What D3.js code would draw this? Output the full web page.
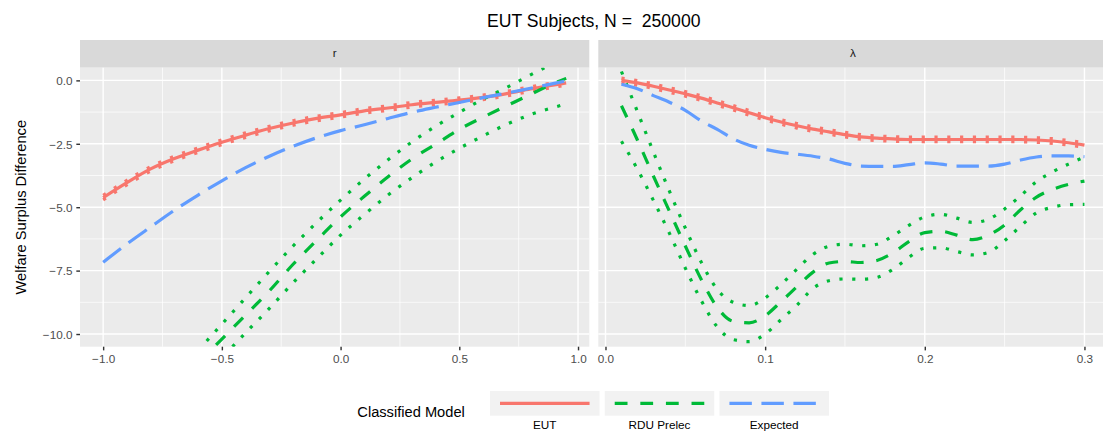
<!DOCTYPE html>
<html>
<head>
<meta charset="utf-8">
<script src="https://cdn.jsdelivr.net/npm/d3@7"></script>
<style>
  body { margin: 0; background: #ffffff; }
  svg { display: block; }
  text { font-family: "Liberation Sans", Arial, Helvetica, sans-serif; white-space: pre; }
</style>
</head>
<body>
<svg id="chart" width="1103" height="434"></svg>
<script>
// ---- data -------------------------------------------------------------
const chartTitle = "EUT Subjects, N =  250000";
const yTitle = "Welfare Surplus Difference";
const legendTitle = "Classified Model";
const modelNames = ["EUT", "RDU Prelec", "Expected"];
const facetNames = ["r", "λ"];

// r facet
const rValues = [-1.0, -0.9, -0.8, -0.7, -0.6, -0.5, -0.4, -0.3, -0.2, -0.1, 0.0,
                 0.1, 0.2, 0.3, 0.4, 0.5, 0.6, 0.7, 0.8, 0.9, 0.95];
const eutR      = [-4.62, -4.03, -3.49, -3.08, -2.75, -2.44, -2.16, -1.90, -1.68, -1.50, -1.36,
                   -1.20, -1.09, -0.96, -0.87, -0.78, -0.67, -0.52, -0.34, -0.18, -0.10];
const eutUpperR = [-4.53, -3.94, -3.40, -2.99, -2.66, -2.35, -2.07, -1.81, -1.59, -1.41, -1.27,
                   -1.11, -1.00, -0.87, -0.78, -0.69, -0.58, -0.43, -0.25, -0.09, -0.01];
const eutLowerR = [-4.71, -4.12, -3.58, -3.17, -2.84, -2.53, -2.25, -1.99, -1.77, -1.59, -1.45,
                   -1.29, -1.18, -1.05, -0.96, -0.87, -0.76, -0.61, -0.43, -0.27, -0.19];
const rduR      = [null, null, null, null, -11.15, -10.2, -9.25, -8.3, -7.25, -6.3, -5.38,
                   -4.57, -3.8, -3.1, -2.52, -1.93, -1.45, -1.0, -0.55, -0.11, 0.08];
const rduUpperR = [null, null, null, null, -10.65, -9.61, -8.57, -7.53, -6.53, -5.6, -4.72,
                   -3.89, -3.13, -2.43, -1.81, -1.26, -0.74, -0.28, 0.22, 0.68, 0.9];
const rduLowerR = [null, null, null, null, -12.0, -10.95, -9.95, -8.99, -7.98, -7.03, -6.1,
                   -5.29, -4.52, -3.84, -3.22, -2.68, -2.19, -1.73, -1.35, -1.06, -0.93];
const expectedR = [-7.17, -6.45, -5.78, -5.12, -4.52, -3.96, -3.44, -2.99, -2.60, -2.26, -1.98,
                   -1.75, -1.50, -1.26, -1.06, -0.87, -0.68, -0.50, -0.31, -0.12, -0.02];

// λ facet
const lambdaValues = [0.01, 0.02, 0.03, 0.04, 0.05, 0.06, 0.07, 0.08, 0.09, 0.10,
                      0.11, 0.12, 0.13, 0.14, 0.15, 0.16, 0.17, 0.18, 0.19, 0.20,
                      0.21, 0.22, 0.23, 0.24, 0.25, 0.26, 0.27, 0.28, 0.29, 0.30];
const eutL      = [0.0, -0.1, -0.23, -0.38, -0.53, -0.70, -0.89, -1.08, -1.28, -1.47,
                   -1.64, -1.79, -1.92, -2.03, -2.14, -2.23, -2.28, -2.31, -2.33, -2.33,
                   -2.33, -2.33, -2.33, -2.33, -2.33, -2.33, -2.35, -2.39, -2.46, -2.55];
const eutUpperL = [0.09, -0.01, -0.14, -0.29, -0.44, -0.61, -0.80, -0.99, -1.19, -1.38,
                   -1.55, -1.70, -1.83, -1.94, -2.05, -2.14, -2.19, -2.22, -2.24, -2.24,
                   -2.24, -2.24, -2.24, -2.24, -2.24, -2.24, -2.26, -2.30, -2.37, -2.46];
const eutLowerL = [-0.09, -0.19, -0.32, -0.47, -0.62, -0.79, -0.98, -1.17, -1.37, -1.56,
                   -1.73, -1.88, -2.01, -2.12, -2.23, -2.32, -2.37, -2.40, -2.42, -2.42,
                   -2.42, -2.42, -2.42, -2.42, -2.42, -2.42, -2.44, -2.48, -2.55, -2.64];
const rduL      = [-1.0, -2.35, -3.77, -5.15, -6.53, -7.85, -8.95, -9.5, -9.56, -9.28,
                   -8.72, -8.13, -7.56, -7.2, -7.14, -7.18, -7.1, -6.8, -6.36, -6.0,
                   -5.95, -6.1, -6.28, -6.1, -5.7, -5.1, -4.6, -4.3, -4.1, -3.97];
const rduUpperL = [0.35, -1.23, -2.82, -4.36, -5.82, -7.17, -8.24, -8.75, -8.88, -8.58,
                   -8.04, -7.44, -6.86, -6.54, -6.46, -6.52, -6.46, -6.13, -5.72, -5.38,
                   -5.28, -5.43, -5.6, -5.47, -5.07, -4.55, -3.99, -3.61, -3.3, -3.02];
const rduLowerL = [-2.4, -3.5, -4.73, -6.02, -7.4, -8.68, -9.72, -10.22, -10.3, -10.0,
                   -9.43, -8.86, -8.2, -7.9, -7.83, -7.84, -7.77, -7.45, -6.98, -6.62,
                   -6.6, -6.75, -6.88, -6.78, -6.32, -5.75, -5.22, -5.0, -4.9, -4.89];
const expectedL = [-0.15, -0.33, -0.6, -0.86, -1.18, -1.6, -1.93, -2.3, -2.56, -2.72,
                   -2.84, -2.91, -2.99, -3.1, -3.27, -3.38, -3.39, -3.39, -3.32, -3.25,
                   -3.3, -3.38, -3.38, -3.38, -3.3, -3.14, -3.02, -2.98, -2.98, -3.01];

// axis breaks
const yTicks = [-10, -7.5, -5, -2.5, 0];
const yMinor = [-8.75, -6.25, -3.75, -1.25];
const rTicks = [-1.0, -0.5, 0.0, 0.5, 1.0];
const rMinor = [-0.75, -0.25, 0.25, 0.75];
const lambdaTicks = [0.0, 0.1, 0.2, 0.3];
const lambdaMinor = [0.05, 0.15, 0.25];

// ---- styling ------------------------------------------------------------
const colors = { EUT: "#F8766D", "RDU Prelec": "#00BA38", Expected: "#619CFF" };
const lw = 3.2;
const dash = {
  EUT: null,
  "RDU Prelec": `${4 * lw},${4 * lw}`,
  Expected: `${7 * lw},${3 * lw}`
};
const dotted = `${lw},${3 * lw}`;

const svg = d3.select("#chart");

const panelTop = 67.7, panelBottom = 346.7, stripTop = 40;
const panels = [
  { name: facetNames[0], x0: 80, x1: 589.3, xs: rValues,
    domain: [-1.0975, 1.0475], ticks: rTicks, minor: rMinor,
    series: {
      EUT: { mid: eutR, lo: eutLowerR, hi: eutUpperR },
      "RDU Prelec": { mid: rduR, lo: rduLowerR, hi: rduUpperR },
      Expected: { mid: expectedR }
    } },
  { name: facetNames[1], x0: 598.3, x1: 1107.6, xs: lambdaValues,
    domain: [-0.0045, 0.3145], ticks: lambdaTicks, minor: lambdaMinor,
    series: {
      EUT: { mid: eutL, lo: eutLowerL, hi: eutUpperL },
      "RDU Prelec": { mid: rduL, lo: rduLowerL, hi: rduUpperL },
      Expected: { mid: expectedL }
    } }
];

const y = d3.scaleLinear().domain([-10.5, 0.5]).range([panelBottom, panelTop]);
const fmt = d3.format(".1f");

// title
svg.append("text")
  .attr("x", 593.8).attr("y", 26.5)
  .attr("text-anchor", "middle")
  .attr("xml:space", "preserve")
  .attr("font-size", "17.6px").attr("fill", "#000")
  .text(chartTitle);

// y-axis title
svg.append("text")
  .attr("transform", `translate(25.5,${(panelTop + panelBottom) / 2}) rotate(-90)`)
  .attr("text-anchor", "middle")
  .attr("font-size", "14.67px").attr("fill", "#000")
  .text(yTitle);

const defs = svg.append("defs");

panels.forEach((p, pi) => {
  const x = d3.scaleLinear().domain(p.domain).range([p.x0, p.x1]);
  const g = svg.append("g");

  // strip
  g.append("rect")
    .attr("x", p.x0).attr("y", stripTop)
    .attr("width", p.x1 - p.x0).attr("height", panelTop - stripTop)
    .attr("fill", "#D9D9D9");
  g.append("text")
    .attr("x", (p.x0 + p.x1) / 2).attr("y", 56.8)
    .attr("text-anchor", "middle")
    .attr("font-size", "11.73px").attr("fill", "#1A1A1A")
    .text(p.name);

  // panel background
  g.append("rect")
    .attr("x", p.x0).attr("y", panelTop)
    .attr("width", p.x1 - p.x0).attr("height", panelBottom - panelTop)
    .attr("fill", "#EBEBEB");

  // grid
  const grid = g.append("g").attr("stroke", "#FFFFFF").attr("fill", "none");
  yMinor.forEach(v => grid.append("line")
    .attr("x1", p.x0).attr("x2", p.x1).attr("y1", y(v)).attr("y2", y(v))
    .attr("stroke-width", 0.71));
  p.minor.forEach(v => grid.append("line")
    .attr("x1", x(v)).attr("x2", x(v)).attr("y1", panelTop).attr("y2", panelBottom)
    .attr("stroke-width", 0.71));
  yTicks.forEach(v => grid.append("line")
    .attr("x1", p.x0).attr("x2", p.x1).attr("y1", y(v)).attr("y2", y(v))
    .attr("stroke-width", 1.42));
  p.ticks.forEach(v => grid.append("line")
    .attr("x1", x(v)).attr("x2", x(v)).attr("y1", panelTop).attr("y2", panelBottom)
    .attr("stroke-width", 1.42));

  // x axis
  const xAxis = d3.axisBottom(x).tickValues(p.ticks).tickFormat(fmt)
    .tickSizeInner(3.67).tickSizeOuter(0).tickPadding(3);
  const xg = g.append("g").attr("transform", `translate(0,${panelBottom})`).call(xAxis);
  xg.select(".domain").remove();
  xg.selectAll(".tick line").attr("stroke", "#333333").attr("stroke-width", 1.42);
  xg.selectAll(".tick text")
    .attr("fill", "#4D4D4D").attr("font-size", "11.73px")
    .attr("font-family", "\"Liberation Sans\", Arial, sans-serif")
    .attr("dy", null).attr("y", 16.8);

  // y axis (first panel only)
  if (pi === 0) {
    const yAxis = d3.axisLeft(y).tickValues(yTicks).tickFormat(fmt)
      .tickSizeInner(3.67).tickSizeOuter(0).tickPadding(3);
    const yg = g.append("g").attr("transform", `translate(${p.x0},0)`).call(yAxis);
    yg.select(".domain").remove();
    yg.selectAll(".tick line").attr("stroke", "#333333").attr("stroke-width", 1.42);
    yg.selectAll(".tick text")
      .attr("fill", "#4D4D4D").attr("font-size", "11.73px")
      .attr("font-family", "\"Liberation Sans\", Arial, sans-serif")
      .attr("x", -7.5).attr("dy", "0.36em");
  }

  // clip for data
  const clipId = `clip-${pi}`;
  defs.append("clipPath").attr("id", clipId)
    .append("rect")
    .attr("x", p.x0).attr("y", panelTop)
    .attr("width", p.x1 - p.x0).attr("height", panelBottom - panelTop);

  const plot = g.append("g").attr("clip-path", `url(#${clipId})`);
  const line = d3.line()
    .defined(d => d[1] != null)
    .x(d => x(d[0])).y(d => y(d[1]))
    .curve(d3.curveMonotoneX);

  modelNames.forEach(m => {
    const s = p.series[m];
    const toPts = arr => p.xs.map((v, i) => [v, arr[i]]);
    ["hi", "lo"].forEach(k => {
      if (!s[k]) return;
      plot.append("path")
        .attr("d", line(toPts(s[k])))
        .attr("fill", "none")
        .attr("stroke", colors[m])
        .attr("stroke-width", lw)
        .attr("stroke-dasharray", dotted);
    });
    plot.append("path")
      .attr("d", line(toPts(s.mid)))
      .attr("fill", "none")
      .attr("stroke", colors[m])
      .attr("stroke-width", lw)
      .attr("stroke-dasharray", dash[m]);
  });
});

// ---- legend -------------------------------------------------------------
const legend = svg.append("g");
legend.append("text")
  .attr("x", 357.3).attr("y", 417)
  .attr("font-size", "14.67px").attr("fill", "#000")
  .text(legendTitle);

const keyX = d3.scaleBand().domain(modelNames).range([490, 829]).paddingInner(0.045);
modelNames.forEach(m => {
  const kx = keyX(m), kw = keyX.bandwidth();
  legend.append("rect")
    .attr("x", kx).attr("y", 391)
    .attr("width", kw).attr("height", 24.7)
    .attr("fill", "#F2F2F2");
  legend.append("line")
    .attr("x1", kx + 10).attr("x2", kx + kw - 10)
    .attr("y1", 403.4).attr("y2", 403.4)
    .attr("stroke", colors[m]).attr("stroke-width", lw)
    .attr("stroke-dasharray", dash[m]);
  legend.append("text")
    .attr("x", kx + kw / 2).attr("y", 429.3)
    .attr("text-anchor", "middle")
    .attr("font-size", "11.73px").attr("fill", "#000")
    .text(m);
});
</script>
</body>
</html>
